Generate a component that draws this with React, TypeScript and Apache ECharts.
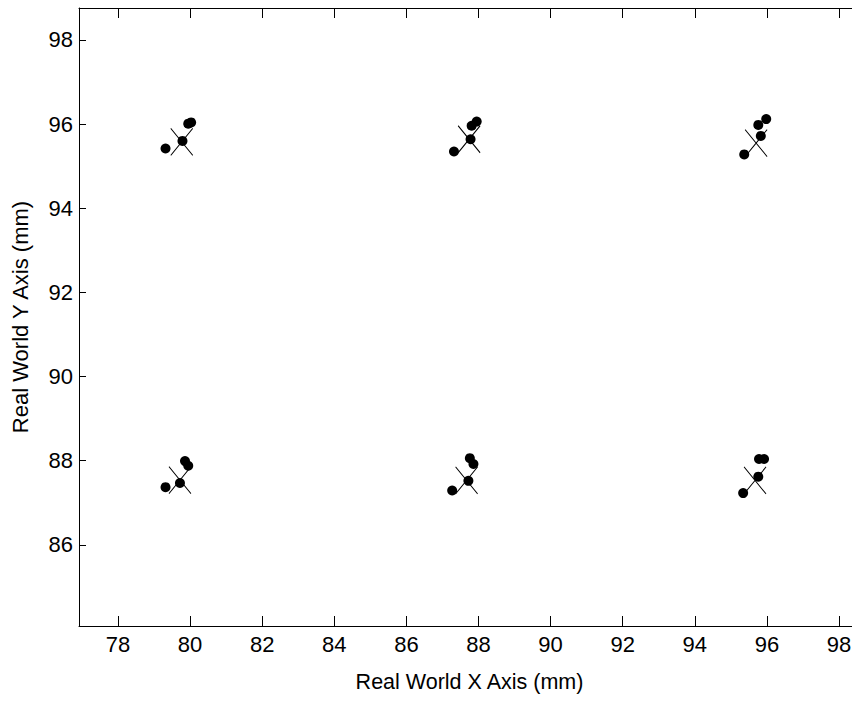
import React, { useEffect, useRef } from "react";
import * as echarts from "echarts";

const xTicks = [78, 80, 82, 84, 86, 88, 90, 92, 94, 96, 98];
const yTicks = [86, 88, 90, 92, 94, 96, 98];

const measuredX = [
  79.32, 79.79, 79.95, 80.03,
  87.32, 87.78, 87.81, 87.95,
  95.37, 95.83, 95.76, 95.98,
  79.32, 79.72, 79.86, 79.95,
  87.27, 87.72, 87.76, 87.86,
  95.34, 95.76, 95.78, 95.92,
];
const measuredY = [
  95.42, 95.6, 96.01, 96.04,
  95.35, 95.64, 95.96, 96.06,
  95.28, 95.72, 95.98, 96.12,
  87.37, 87.47, 87.99, 87.88,
  87.29, 87.52, 88.06, 87.92,
  87.23, 87.62, 88.04, 88.04,
];
const targetX = [79.77, 87.74, 95.7, 79.72, 87.67, 95.67];
const targetY = [95.58, 95.64, 95.55, 87.54, 87.53, 87.53];

const xTitle = "Real World X Axis (mm)";
const yTitle = "Real World Y Axis (mm)";

const FONT = "'Liberation Sans', Arial, sans-serif";

export default function App() {
  const ref = useRef<HTMLDivElement>(null);
  useEffect(() => {
    if (!ref.current) return;
    const chart = echarts.init(ref.current, null, { renderer: "svg" });
    const xMin = 76.92, xMax = 98.47, yMin = 84.07, yMax = 98.76;
    chart.setOption({
      animation: false,
      backgroundColor: "#fff",
      grid: { left: 79, top: 8, width: 777, bottom: 75 },
      xAxis: [
        {
          type: "value",
          position: "bottom",
          min: xMin,
          max: xMax,
          name: xTitle,
          nameLocation: "middle",
          nameGap: 45,
          nameTextStyle: { fontFamily: FONT, fontSize: 21.5, color: "#000", padding: [0, 0, 0, 4] },
          axisLine: { show: true, onZero: false, lineStyle: { color: "#000", width: 1 } },
          axisTick: { show: true, inside: true, length: 10, customValues: xTicks, lineStyle: { color: "#000" } },
          axisLabel: { customValues: xTicks, fontFamily: FONT, fontSize: 22, color: "#000", margin: 7 },
          splitLine: { show: false },
        },
        {
          type: "value",
          position: "top",
          min: xMin,
          max: xMax,
          axisLine: { show: true, onZero: false, lineStyle: { color: "#000", width: 1 } },
          axisTick: { show: true, inside: true, length: 10, customValues: xTicks, lineStyle: { color: "#000" } },
          axisLabel: { show: false },
          splitLine: { show: false },
        },
      ],
      yAxis: {
        type: "value",
        position: "left",
        min: yMin,
        max: yMax,
        name: yTitle,
        nameLocation: "middle",
        nameGap: 48,
        nameTextStyle: { fontFamily: FONT, fontSize: 22, color: "#000" },
        axisLine: { show: true, onZero: false, lineStyle: { color: "#000", width: 1 } },
        axisTick: { show: true, inside: true, length: 7, customValues: yTicks, lineStyle: { color: "#000" } },
        axisLabel: { customValues: yTicks, fontFamily: FONT, fontSize: 22, color: "#000", margin: 6 },
        splitLine: { show: false },
      },
      series: [
        {
          type: "scatter",
          xAxisIndex: 0,
          data: targetX.map((x, i) => [x, targetY[i]]),
          symbol: "path://M0,0L22,27M0,27L22,0",
          symbolSize: [22, 27],
          itemStyle: { color: "none", borderColor: "#000", borderWidth: 1, opacity: 1 },
          z: 2,
        },
        {
          type: "scatter",
          xAxisIndex: 0,
          data: measuredX.map((x, i) => [x, measuredY[i]]),
          symbol: "circle",
          symbolSize: 10,
          itemStyle: { color: "#000", opacity: 1 },
          z: 3,
        },
      ],
    });
    return () => chart.dispose();
  }, []);
  return <div ref={ref} style={{ position: "fixed", left: 0, top: 0, width: 880, height: 701 }} />;
}
